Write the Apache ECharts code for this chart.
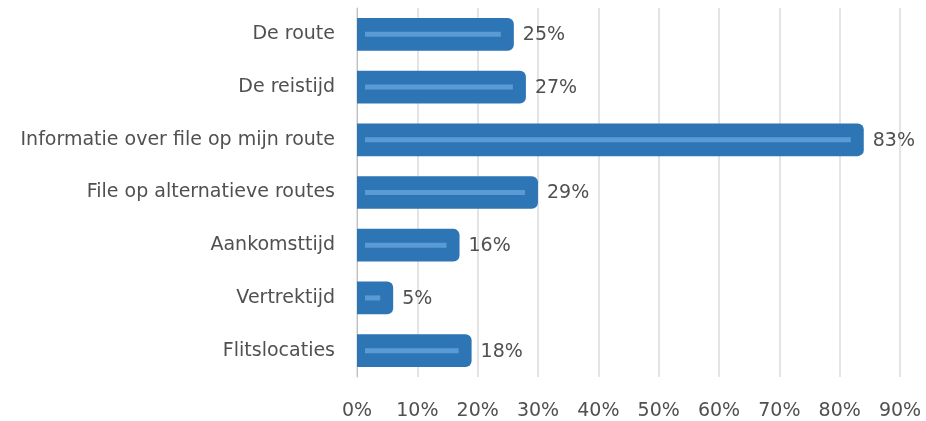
<!DOCTYPE html>
<html><head><meta charset="utf-8">
<script src="https://cdn.jsdelivr.net/npm/echarts@6/dist/echarts.min.js"></script>
<style>html,body{margin:0;padding:0;background:#fff}#c{width:926px;height:421px}</style>
</head><body><div id="c"></div>
<script>
const categories = ["De route","De reistijd","Informatie over file op mijn route","File op alternatieve routes","Aankomsttijd","Vertrektijd","Flitslocaties"];
const values = [25,27,83,29,16,5,18];
const xTicks = [0,10,20,30,40,50,60,70,80,90];

const chart = echarts.init(document.getElementById('c'), null, {renderer:'canvas'});
const FONT = '"DejaVu Sans", sans-serif';
const FS = 19;
const TXT = '#505050';
chart.setOption({
  animation:false,
  grid:{left:357, right:26, top:8, bottom:44, containLabel:false},
  xAxis:{type:'value', min:xTicks[0], max:xTicks[xTicks.length-1], interval:10,
    axisLine:{show:false}, axisTick:{show:false},
    axisLabel:{formatter:'{value}%', color:TXT, fontSize:FS, fontFamily:FONT, margin:25},
    splitLine:{lineStyle:{color:'#e4e4e4', width:2}}},
  yAxis:{type:'category', data:categories, inverse:true,
    axisLine:{show:true, lineStyle:{color:'#bfbfbf', width:1}}, axisTick:{show:false},
    axisLabel:{color:TXT, fontSize:FS, fontFamily:FONT, margin:22}},
  series:[{
    type:'custom',
    data: values.map((v,i)=>[v,i]),
    encode:{x:0, y:1},
    renderItem:function(params, api){
      const v = api.value(0), idx = api.value(1);
      const p0 = api.coord([0, idx]);
      const p1 = api.coord([v, idx]);
      const h = api.size([0,1])[1]*0.62;
      const x0 = p0[0], x1 = p1[0]+6, yc = p0[1];
      return {type:'group', children:[
        {type:'rect', shape:{x:x0, y:yc-h/2, width:x1-x0, height:h, r:[0,6,6,0]},
          style:{fill:'#2e75b6'}},
        {type:'rect', shape:{x:x0+8, y:yc-2.5, width:Math.max(p1[0]-7-(x0+8),4), height:5},
          style:{fill:'#5b9bd5'}},
        {type:'text', style:{text:v+'%', x:x1+9, y:yc+1, textVerticalAlign:'middle', textAlign:'left',
          fill:TXT, font:FS+'px '+FONT}}
      ]};
    }
  }]
});
</script></body></html>
